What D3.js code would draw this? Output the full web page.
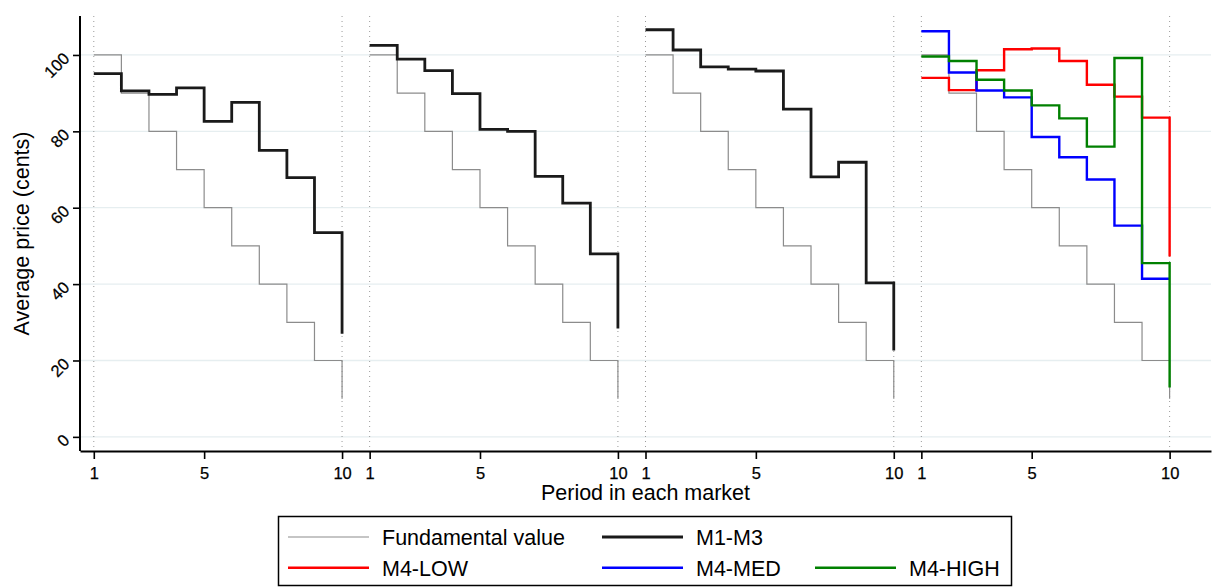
<!DOCTYPE html>
<html>
<head>
<meta charset="utf-8">
<script src="https://cdn.jsdelivr.net/npm/d3@7/dist/d3.min.js"></script>
<style>
  html, body { margin: 0; padding: 0; background: #fff; }
  svg { display: block; font-family: "Liberation Sans", Arial, sans-serif; }
</style>
</head>
<body>
<div id="js-chart"></div>
<script>
// periods within one market, 4 markets drawn side by side
const periods = [1, 2, 3, 4, 5, 6, 7, 8, 9, 10];
const markets = [1, 2, 3, 4];

// series values (cents)
const fundamental = [100, 90, 80, 70, 60, 50, 40, 30, 20, 10];
const m1 = [95.1, 90.6, 89.7, 91.4, 82.6, 87.6, 75.0, 67.9, 53.5, 27.0];
const m2 = [102.5, 98.9, 95.9, 89.9, 80.5, 80.0, 68.2, 61.2, 47.9, 28.4];
const m3 = [106.6, 101.3, 96.9, 96.3, 95.8, 85.8, 68.1, 71.9, 40.3, 22.6];
const m4Low = [94.0, 90.8, 96.0, 101.5, 101.7, 98.4, 92.2, 89.1, 83.6, 47.2];
const m4Med = [106.2, 95.4, 90.7, 88.9, 78.5, 73.2, 67.4, 55.3, 41.4, 41.4];
const m4High = [99.6, 98.4, 93.5, 90.7, 86.8, 83.4, 76.0, 99.2, 45.5, 12.9];

// axis ticks
const yTicks = [0, 20, 40, 60, 80, 100];
const xTickPeriods = [1, 5, 10];

const legendItems = [
  { label: 'Fundamental value', color: '#8c8c8c', width: 1.2 },
  { label: 'M1-M3', color: '#1a1a1a', width: 2.8 },
  { label: 'M4-LOW', color: '#ff0000', width: 2.4 },
  { label: 'M4-MED', color: '#0000ff', width: 2.4 },
  { label: 'M4-HIGH', color: '#008000', width: 2.4 }
];

// which series goes in which market
const series = [];
markets.forEach(m => series.push({ market: m, values: fundamental, style: legendItems[0] }));
[m1, m2, m3].forEach((vals, i) => series.push({ market: i + 1, values: vals, style: legendItems[1] }));
series.push({ market: 4, values: m4Low, style: legendItems[2] });
series.push({ market: 4, values: m4Med, style: legendItems[3] });
series.push({ market: 4, values: m4High, style: legendItems[4] });

const width = 1219, height = 587;
const plot = { left: 80, right: 1211, top: 16, bottom: 451 };

// continuous x over the 4 markets: market m, period p -> (m-1)*10 + p
const xPos = (m, p) => (m - 1) * periods.length + p;

const x = d3.scaleLinear().domain([0.5, 41.5]).range([plot.left, plot.right]);
const y = d3.scaleLinear().domain([-3.7, 110.2]).range([plot.bottom, plot.top]);

const svg = d3.select('#js-chart')
  .append('svg')
  .attr('width', width)
  .attr('height', height);

// horizontal grid
svg.append('g')
  .selectAll('line')
  .data(yTicks)
  .enter().append('line')
  .attr('x1', plot.left).attr('x2', plot.right)
  .attr('y1', d => y(d)).attr('y2', d => y(d))
  .attr('stroke', '#e6eef0')
  .attr('stroke-width', 1.3);

// dotted market boundaries at first and last period
const bounds = [];
markets.forEach(m => { bounds.push(xPos(m, 1)); bounds.push(xPos(m, 10)); });
svg.append('g')
  .selectAll('line')
  .data(bounds)
  .enter().append('line')
  .attr('x1', d => x(d)).attr('x2', d => x(d))
  .attr('y1', plot.top).attr('y2', plot.bottom - 3)
  .attr('stroke', '#9a9a9a')
  .attr('stroke-width', 1)
  .attr('stroke-dasharray', '1,4');

// stairstep lines
const line = d3.line()
  .x(d => x(d[0]))
  .y(d => y(d[1]))
  .curve(d3.curveStepAfter);

svg.append('g')
  .selectAll('path')
  .data(series)
  .enter().append('path')
  .attr('d', s => line(s.values.map((v, i) => [xPos(s.market, periods[i]), v])))
  .attr('fill', 'none')
  .attr('stroke', s => s.style.color)
  .attr('stroke-width', s => s.style.width)
  .attr('stroke-linejoin', 'miter')
  .attr('stroke-linecap', 'butt');

// x axis
const xTickValues = [];
markets.forEach(m => xTickPeriods.forEach(p => xTickValues.push(xPos(m, p))));
const xAxis = svg.append('g')
  .attr('transform', `translate(0,${plot.bottom})`)
  .call(d3.axisBottom(x)
    .tickValues(xTickValues)
    .tickFormat(d => ((d - 1) % 10) + 1)
    .tickSize(8)
    .tickSizeOuter(0));
xAxis.attr('font-family', null).attr('font-size', null);
xAxis.select('.domain').attr('stroke', '#000').attr('stroke-width', 2);
xAxis.selectAll('.tick line').attr('stroke', '#000').attr('stroke-width', 1.6);
xAxis.selectAll('.tick text')
  .style('font-size', '16.5px')
  .attr('fill', '#000')
  .attr('stroke', '#000').attr('stroke-width', 0.25)
  .attr('y', 16);

// y axis
const yAxis = svg.append('g')
  .attr('transform', `translate(${plot.left},0)`)
  .call(d3.axisLeft(y)
    .tickValues(yTicks)
    .tickSize(7)
    .tickSizeOuter(0));
yAxis.attr('font-family', null).attr('font-size', null);
yAxis.select('.domain')
  .attr('d', `M0,${plot.top}V${plot.bottom}`)
  .attr('stroke', '#000').attr('stroke-width', 2);
yAxis.selectAll('.tick line').attr('stroke', '#000').attr('stroke-width', 1.6);
yAxis.selectAll('.tick text')
  .style('font-size', '16.5px')
  .attr('fill', '#000')
  .attr('stroke', '#000').attr('stroke-width', 0.25)
  .attr('x', null).attr('dy', null)
  .attr('text-anchor', 'end')
  .attr('transform', 'translate(-9.5,4) rotate(-45)');

// axis titles
svg.append('text')
  .attr('x', (plot.left + plot.right) / 2)
  .attr('y', 500)
  .attr('text-anchor', 'middle')
  .attr('font-size', 21.5)
  .text('Period in each market');

svg.append('text')
  .attr('transform', `translate(29,${(plot.top + plot.bottom) / 2}) rotate(-90)`)
  .attr('text-anchor', 'middle')
  .attr('font-size', 21.5)
  .text('Average price (cents)');

// legend
const legend = svg.append('g');
legend.append('rect')
  .attr('x', 278.5).attr('y', 516.5)
  .attr('width', 733).attr('height', 69)
  .attr('fill', '#fff')
  .attr('stroke', '#000')
  .attr('stroke-width', 1.5);

const legendCols = [288, 602, 815];
const legendRows = [537, 567.7];
const legendPos = [[0, 0], [1, 0], [0, 1], [1, 1], [2, 1]];

const entry = legend.selectAll('.legend-entry')
  .data(legendItems)
  .enter().append('g')
  .attr('class', 'legend-entry')
  .attr('transform', (d, i) => `translate(${legendCols[legendPos[i][0]]},${legendRows[legendPos[i][1]]})`);

entry.append('line')
  .attr('x1', 0).attr('x2', 81)
  .attr('stroke', d => d.color)
  .attr('stroke-width', d => d.width);

entry.append('text')
  .attr('x', 94)
  .attr('y', 8)
  .attr('font-size', 21.5)
  .text(d => d.label);
</script>
</body>
</html>
